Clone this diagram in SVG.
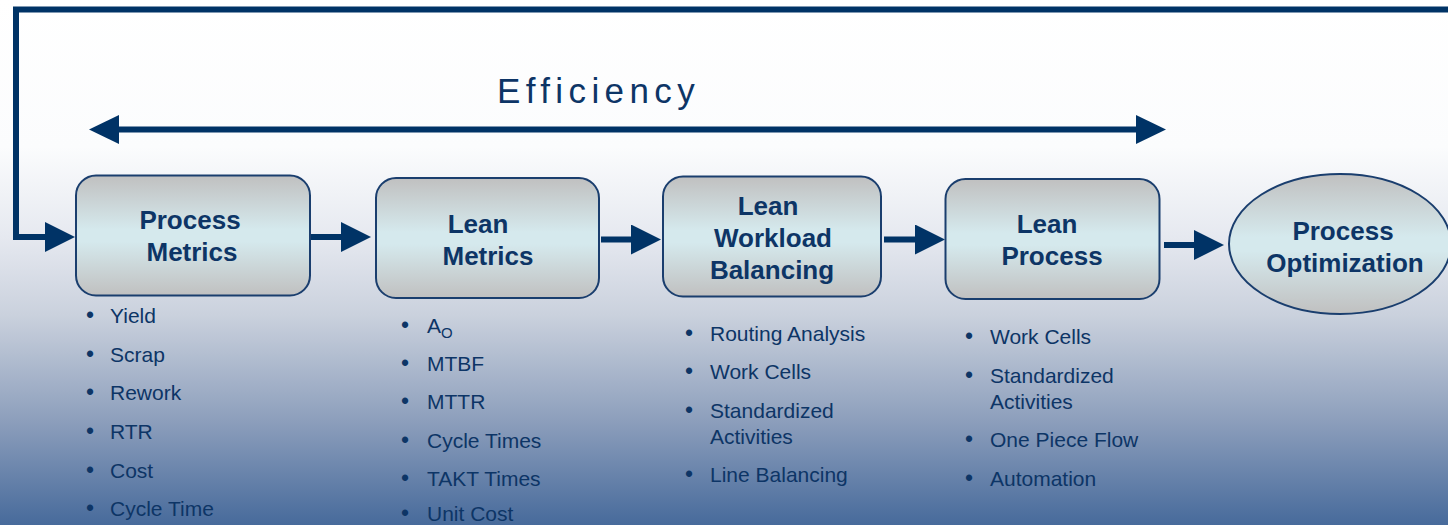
<svg xmlns="http://www.w3.org/2000/svg" width="1448" height="525" viewBox="0 0 1448 525">
<defs>
<linearGradient id="bg" x1="0" y1="0" x2="0" y2="1">
<stop offset="0" stop-color="#ffffff"/>
<stop offset="0.28" stop-color="#fbfcfd"/>
<stop offset="0.45" stop-color="#e6e9f0"/>
<stop offset="0.6" stop-color="#cad1dd"/>
<stop offset="0.8" stop-color="#8d9fbc"/>
<stop offset="1" stop-color="#476a9b"/>
</linearGradient>
<linearGradient id="box" x1="0" y1="0" x2="0" y2="1">
<stop offset="0" stop-color="#c0c0c0"/>
<stop offset="0.45" stop-color="#d5e9ed"/>
<stop offset="0.55" stop-color="#d5e9ed"/>
<stop offset="1" stop-color="#c0c0c0"/>
</linearGradient>
<marker id="ah" markerUnits="userSpaceOnUse" markerWidth="32" markerHeight="32" refX="2" refY="15" orient="auto" viewBox="0 0 32 32">
<path d="M0,0 L30,15 L0,30 Z" fill="#003366"/>
</marker>
<style>
.node{fill:url(#box);stroke:#1a3e6e;stroke-width:2}
.t{font-family:"Liberation Sans",Arial,sans-serif;font-weight:bold;font-size:26px;fill:#0d3566;text-anchor:middle}
.b{font-family:"Liberation Sans",Arial,sans-serif;font-size:21px;fill:#0d3566}
.c{fill:none;stroke:#003366;stroke-width:6}
</style>
</defs>
<rect x="0" y="0" width="1448" height="525" fill="url(#bg)"/>
<g id="connectors">
<polyline class="c" points="1452,9.5 16,9.5 16,237 47,237" marker-end="url(#ah)"/>
<line class="c" x1="117" y1="129.5" x2="1138" y2="129.5" stroke-width="5"/>
<path d="M89,129.5 L119,115 L119,144 Z" fill="#003366"/>
<path d="M1166,129.5 L1136,115 L1136,144 Z" fill="#003366"/>
<line class="c" x1="311" y1="237" x2="343" y2="237" marker-end="url(#ah)"/>
<line class="c" x1="601" y1="239.5" x2="633" y2="239.5" marker-end="url(#ah)"/>
<line class="c" x1="884" y1="239.5" x2="917" y2="239.5" marker-end="url(#ah)"/>
<line class="c" x1="1164" y1="245" x2="1196" y2="245" marker-end="url(#ah)"/>
</g>
<text x="497" y="103" font-family="'Liberation Sans',Arial,sans-serif" font-size="35" letter-spacing="5.4" fill="#0d3566">Efficiency</text>
<g id="n1">
<rect class="node" x="76" y="175.5" width="234" height="120" rx="20"/>
<text class="t" x="190" y="229">Process</text>
<text class="t" x="192" y="261">Metrics</text>
</g>
<g id="n2">
<rect class="node" x="376" y="178" width="223" height="120" rx="20"/>
<text class="t" x="478" y="233">Lean</text>
<text class="t" x="488" y="265">Metrics</text>
</g>
<g id="n3">
<rect class="node" x="663" y="176.5" width="218" height="120" rx="20"/>
<text class="t" x="768" y="215">Lean</text>
<text class="t" x="773" y="247">Workload</text>
<text class="t" x="772" y="279">Balancing</text>
</g>
<g id="n4">
<rect class="node" x="945.5" y="179" width="214" height="120" rx="20"/>
<text class="t" x="1047" y="233">Lean</text>
<text class="t" x="1052" y="265">Process</text>
</g>
<g id="n5">
<ellipse class="node" cx="1340" cy="244" rx="111" ry="70"/>
<text class="t" x="1343" y="240">Process</text>
<text class="t" x="1345" y="272">Optimization</text>
</g>
<g id="list1" class="b">
<text x="86" y="323" font-size="23">•</text><text x="110" y="323">Yield</text>
<text x="86" y="362" font-size="23">•</text><text x="110" y="362">Scrap</text>
<text x="86" y="400" font-size="23">•</text><text x="110" y="400">Rework</text>
<text x="86" y="439" font-size="23">•</text><text x="110" y="439">RTR</text>
<text x="86" y="478" font-size="23">•</text><text x="110" y="478">Cost</text>
<text x="86" y="516" font-size="23">•</text><text x="110" y="516">Cycle Time</text>
</g>
<g id="list2" class="b">
<text x="401" y="333" font-size="23">•</text><text x="427" y="333">A<tspan font-size="15" dy="5">O</tspan></text>
<text x="401" y="371" font-size="23">•</text><text x="427" y="371">MTBF</text>
<text x="401" y="409" font-size="23">•</text><text x="427" y="409">MTTR</text>
<text x="401" y="448" font-size="23">•</text><text x="427" y="448">Cycle Times</text>
<text x="401" y="486" font-size="23">•</text><text x="427" y="486">TAKT Times</text>
<text x="401" y="521" font-size="23">•</text><text x="427" y="521">Unit Cost</text>
</g>
<g id="list3" class="b">
<text x="685" y="341" font-size="23">•</text><text x="710" y="341">Routing Analysis</text>
<text x="685" y="379" font-size="23">•</text><text x="710" y="379">Work Cells</text>
<text x="685" y="418" font-size="23">•</text><text x="710" y="418">Standardized</text>
<text x="710" y="444">Activities</text>
<text x="685" y="482" font-size="23">•</text><text x="710" y="482">Line Balancing</text>
</g>
<g id="list4" class="b">
<text x="965" y="344" font-size="23">•</text><text x="990" y="344">Work Cells</text>
<text x="965" y="383" font-size="23">•</text><text x="990" y="383">Standardized</text>
<text x="990" y="409">Activities</text>
<text x="965" y="447" font-size="23">•</text><text x="990" y="447">One Piece Flow</text>
<text x="965" y="486" font-size="23">•</text><text x="990" y="486">Automation</text>
</g>
</svg>
